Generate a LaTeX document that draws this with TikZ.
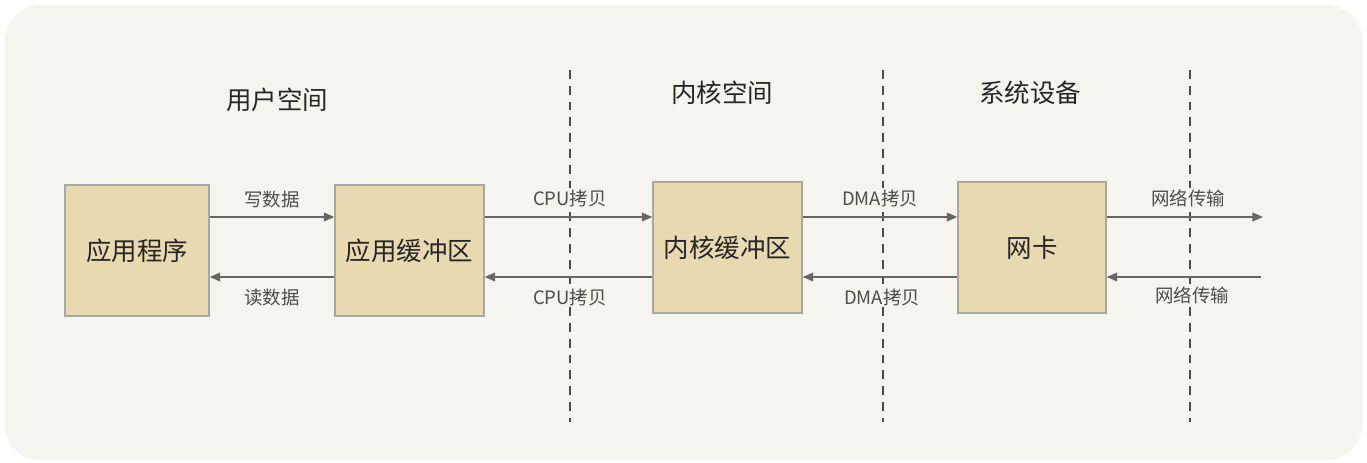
\documentclass[tikz,border=0pt]{standalone}
\usepackage{fontspec}
\setmainfont{Noto Sans CJK SC}
\usetikzlibrary{arrows.meta}
\definecolor{bg}{HTML}{F5F5F0}
\definecolor{boxf}{HTML}{E8D9B0}
\definecolor{boxd}{HTML}{A8A8A0}
\definecolor{arr}{HTML}{666666}
\begin{document}
\begin{tikzpicture}[x=0.02cm,y=-0.02cm,
  box/.style={draw=boxd,fill=boxf,line width=0.8pt,inner sep=0pt,minimum height=2.62cm,font=\fontsize{14.5}{17}\selectfont,text=black!85},
  conn/.style={draw=arr,line width=0.8pt,-{Triangle[length=6pt,width=5pt]}},
  lab/.style={font=\fontsize{10.5}{12}\selectfont,text=black!70,fill=bg,inner sep=1pt},
  title/.style={font=\fontsize{14.5}{16}\selectfont,text=black!85},
  sep/.style={draw=black!70,dash pattern=on 5pt off 4pt,line width=0.7pt}]
\useasboundingbox (0,0) rectangle (1367,463);
\fill[white] (0,0) rectangle (1367,463);
\fill[bg,rounded corners=20pt] (5,5) rectangle (1362,460);
\foreach \x/\n in {570/s1,883/s2,1190/s3}{
  \coordinate (\n t) at (\x,70); \coordinate (\n b) at (\x,422);
  \draw[sep] (\n t) -- (\n b);}
\node[title] (t1) at (277,100) {用户空间};
\node[title] (t2) at (722,93) {内核空间};
\node[title] (t3) at (1030,93) {系统设备};
\node[box,minimum width=2.88cm] (A) at (137,250.5) {应用程序};
\node[box,minimum width=2.98cm] (B) at (409.5,250.5) {应用缓冲区};
\node[box,minimum width=2.98cm] (C) at (727.5,247.5) {内核缓冲区};
\node[box,minimum width=2.96cm] (D) at (1032,247.5) {网卡};
\coordinate (yt) at (0,217);
\coordinate (yb) at (0,277);
\coordinate (out) at (1263,217);
\coordinate (in) at (1261,277);
\draw[conn] (A.east |- yt) -- (B.west |- yt);
\draw[conn] (B.west |- yb) -- (A.east |- yb);
\draw[conn] (B.east |- yt) -- (C.west |- yt);
\draw[conn] (C.west |- yb) -- (B.east |- yb);
\draw[conn] (C.east |- yt) -- (D.west |- yt);
\draw[conn] (D.west |- yb) -- (C.east |- yb);
\draw[conn] (D.east |- yt) -- (out);
\draw[conn] (in) -- (D.east |- yb);
\node[lab] (l1) at (272,200) {写数据};
\node[lab] (l2) at (272,298) {读数据};
\node[lab] (l3) at (570,198) {CPU拷贝};
\node[lab] (l4) at (570,297) {CPU拷贝};
\node[lab] (l5) at (880,198) {DMA拷贝};
\node[lab] (l6) at (882,297) {DMA拷贝};
\node[lab] (l7) at (1188,198) {网络传输};
\node[lab] (l8) at (1192,295) {网络传输};
\end{tikzpicture}
\end{document}
